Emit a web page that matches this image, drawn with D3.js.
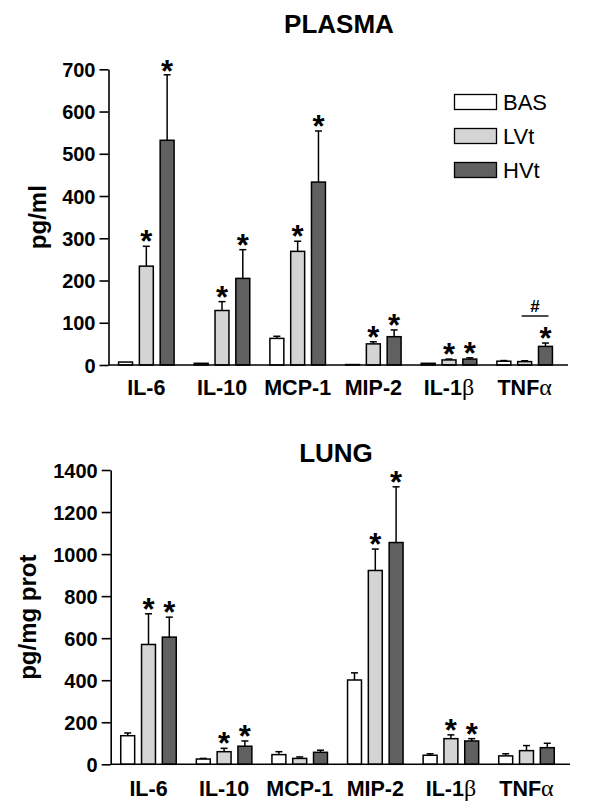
<!DOCTYPE html>
<html>
<head>
<meta charset="utf-8">
<script src="https://cdn.jsdelivr.net/npm/d3@7"></script>
<style>
  html, body { margin: 0; padding: 0; background: #fff; }
  svg { display: block; font-family: "Liberation Sans", Arial, sans-serif; }
</style>
</head>
<body>
<svg id="chart" width="600" height="809"></svg>
<script>
// ---------- DATA ----------
const categories = ["IL-6", "IL-10", "MCP-1", "MIP-2", "IL-1β", "TNFα"];
const series = ["BAS", "LVt", "HVt"];

// Plasma (pg/ml)
const plasmaBAS    = [7, 4, 63, 1, 4, 9];
const plasmaBASErr = [0, 0, 5, 0, 0, 1.5];
const plasmaLVt    = [234, 129, 269, 50, 12, 8];
const plasmaLVtErr = [47, 21, 24, 5, 2, 2];
const plasmaHVt    = [532, 205, 433, 67, 14, 44];
const plasmaHVtErr = [155, 68, 121, 16, 3, 8];
const plasmaStarsLVt = [1, 1, 1, 1, 1, 0];
const plasmaStarsHVt = [1, 1, 1, 1, 1, 1];
const plasmaTicks = [0, 100, 200, 300, 400, 500, 600, 700];

// Lung (pg/mg prot)
const lungBAS    = [136, 25, 46, 401, 43, 40];
const lungBASErr = [13, 3, 14, 34, 7, 10];
const lungLVt    = [570, 60, 28, 922, 122, 65];
const lungLVtErr = [146, 16, 7, 102, 18, 24];
const lungHVt    = [605, 86, 57, 1055, 111, 79];
const lungHVtErr = [95, 25, 10, 265, 11, 21];
const lungStarsLVt = [1, 1, 0, 1, 1, 0];
const lungStarsHVt = [1, 1, 0, 1, 1, 0];
const lungTicks = [0, 200, 400, 600, 800, 1000, 1200, 1400];

// '#' annotation in plasma (TNFα, LVt vs HVt)
const hashCategory = "TNFα";
const hashFrom = "LVt";
const hashTo = "HVt";
const hashValue = 116;

// ---------- STYLE ----------
const colors = { BAS: "#ffffff", LVt: "#d4d4d4", HVt: "#606060" };
const font = '"Liberation Sans", Arial, sans-serif';
const svg = d3.select("#chart");

function buildRows(bas, basE, lvt, lvtE, hvt, hvtE, sL, sH) {
  return categories.map((c, i) => ({
    cat: c,
    vals: [
      { s: "BAS", v: bas[i], e: basE[i], star: 0 },
      { s: "LVt", v: lvt[i], e: lvtE[i], star: sL[i] },
      { s: "HVt", v: hvt[i], e: hvtE[i], star: sH[i] }
    ]
  }));
}

function catLabel(sel, c) {
  const greek = /[αβ]$/.test(c);
  if (greek) {
    sel.append("tspan").text(c.slice(0, -1));
    sel.append("tspan").attr("font-weight", "normal")
      .attr("font-family", '"Liberation Serif", "DejaVu Serif", serif')
      .attr("font-size", 24)
      .text(c.slice(-1));
  } else sel.text(c);
}

function panel(opt) {
  const g = svg.append("g");
  const x0 = d3.scaleBand().domain(categories).range([opt.left, opt.right]).padding(0);
  const step = x0.step();
  const x1 = d3.scaleBand().domain(series)
    .range([(step - 62.4) / 2, (step + 62.4) / 2]).paddingInner(0.33).paddingOuter(0.165);
  const y = d3.scaleLinear().domain([0, opt.max]).range([opt.bottom, opt.top]);

  // title
  g.append("text").attr("x", opt.titleX).attr("y", opt.titleY)
    .attr("text-anchor", "middle").attr("font-size", 26).attr("font-weight", "bold")
    .attr("font-family", font).text(opt.title);

  // y axis
  const yAxis = d3.axisLeft(y).tickValues(opt.ticks).tickFormat(d3.format("d"))
    .tickSize(9).tickPadding(4).tickSizeOuter(0);
  const ya = g.append("g").attr("transform", `translate(${opt.left},0)`).call(yAxis);
  ya.select(".domain").attr("stroke", "#000").attr("stroke-width", 1.6);
  ya.selectAll(".tick line").attr("stroke", "#000").attr("stroke-width", 1.6);
  ya.selectAll(".tick text").attr("font-size", 20).attr("font-weight", "bold")
    .attr("font-family", font).attr("fill", "#000").attr("dy", "0.35em");

  // y label
  g.append("text")
    .attr("transform", `translate(${opt.yLabelX},${(opt.top + opt.bottom) / 2}) rotate(-90)`)
    .attr("text-anchor", "middle").attr("font-size", 24).attr("font-weight", "bold")
    .attr("font-family", font).text(opt.yLabel);

  const rows = opt.rows;
  const groups = g.selectAll(".grp").data(rows).enter().append("g")
    .attr("transform", d => `translate(${x0(d.cat)},0)`);

  // error bars (upper)
  groups.each(function (d) {
    const gg = d3.select(this);
    d.vals.forEach(v => {
      if (!v.e) return;
      const cx = x1(v.s) + x1.bandwidth() / 2;
      gg.append("line").attr("x1", cx).attr("x2", cx)
        .attr("y1", y(v.v)).attr("y2", y(v.v + v.e))
        .attr("stroke", "#000").attr("stroke-width", 1.5);
      gg.append("line").attr("x1", cx - 3.5).attr("x2", cx + 3.5)
        .attr("y1", y(v.v + v.e)).attr("y2", y(v.v + v.e))
        .attr("stroke", "#000").attr("stroke-width", 1.5);
    });
  });

  // bars
  groups.selectAll("rect").data(d => d.vals).enter().append("rect")
    .attr("x", d => x1(d.s)).attr("width", x1.bandwidth())
    .attr("y", d => y(d.v)).attr("height", d => Math.max(0, y(0) - y(d.v)))
    .attr("fill", d => colors[d.s]).attr("stroke", "#000").attr("stroke-width", 1.5);

  // stars
  groups.each(function (d) {
    const gg = d3.select(this);
    d.vals.forEach(v => {
      if (!v.star) return;
      const cx = x1(v.s) + x1.bandwidth() / 2;
      const cy = Math.max(opt.top - 4, y(v.v + v.e) - 11);
      gg.append("text").attr("x", cx).attr("y", cy + 17)
        .attr("text-anchor", "middle").attr("font-size", 31).attr("font-weight", "bold")
        .attr("font-family", font).text("*");
    });
  });

  // x axis line
  g.append("line").attr("x1", opt.left).attr("x2", opt.axisEnd)
    .attr("y1", y(0)).attr("y2", y(0)).attr("stroke", "#000").attr("stroke-width", 1.6);

  // category labels
  categories.forEach(c => {
    const t = g.append("text").attr("x", x0(c) + step / 2).attr("y", opt.catY)
      .attr("text-anchor", "middle").attr("font-size", 21.5).attr("font-weight", "bold")
      .attr("font-family", font);
    catLabel(t, c);
  });

  return { g, x0, x1, y };
}

// ---------- PLASMA ----------
const p = panel({
  title: "PLASMA", titleX: 339, titleY: 33,
  left: 108.5, right: 562.5, axisEnd: 568,
  top: 69.3, bottom: 365, max: 700, ticks: plasmaTicks,
  yLabel: "pg/ml", yLabelX: 46, catY: 395,
  rows: buildRows(plasmaBAS, plasmaBASErr, plasmaLVt, plasmaLVtErr, plasmaHVt, plasmaHVtErr,
                  plasmaStarsLVt, plasmaStarsHVt)
});

// hash annotation
{
  const xa = p.x0(hashCategory) + p.x1(hashFrom) + p.x1.bandwidth() / 2 - 3;
  const xb = p.x0(hashCategory) + p.x1(hashTo) + p.x1.bandwidth() / 2 + 3;
  p.g.append("line").attr("x1", xa).attr("x2", xb)
    .attr("y1", p.y(hashValue)).attr("y2", p.y(hashValue))
    .attr("stroke", "#000").attr("stroke-width", 1.4);
  p.g.append("text").attr("x", (xa + xb) / 2).attr("y", p.y(hashValue) - 4)
    .attr("text-anchor", "middle").attr("font-size", 17).attr("font-weight", "bold")
    .attr("font-family", font).text("#");
}

// legend
{
  const lg = svg.append("g");
  series.forEach((s, i) => {
    lg.append("rect").attr("x", 454.5).attr("y", 94.5 + i * 34).attr("width", 42).attr("height", 15)
      .attr("fill", colors[s]).attr("stroke", "#000").attr("stroke-width", 1.3);
    lg.append("text").attr("x", 503).attr("y", 110 + i * 34)
      .attr("font-size", 22).attr("font-family", font).text(s);
  });
}

// ---------- LUNG ----------
panel({
  title: "LUNG", titleX: 336, titleY: 462,
  left: 110.7, right: 564.3, axisEnd: 570,
  top: 470, bottom: 764.3, max: 1400, ticks: lungTicks,
  yLabel: "pg/mg prot", yLabelX: 36, catY: 796,
  rows: buildRows(lungBAS, lungBASErr, lungLVt, lungLVtErr, lungHVt, lungHVtErr,
                  lungStarsLVt, lungStarsHVt)
});
</script>
</body>
</html>
